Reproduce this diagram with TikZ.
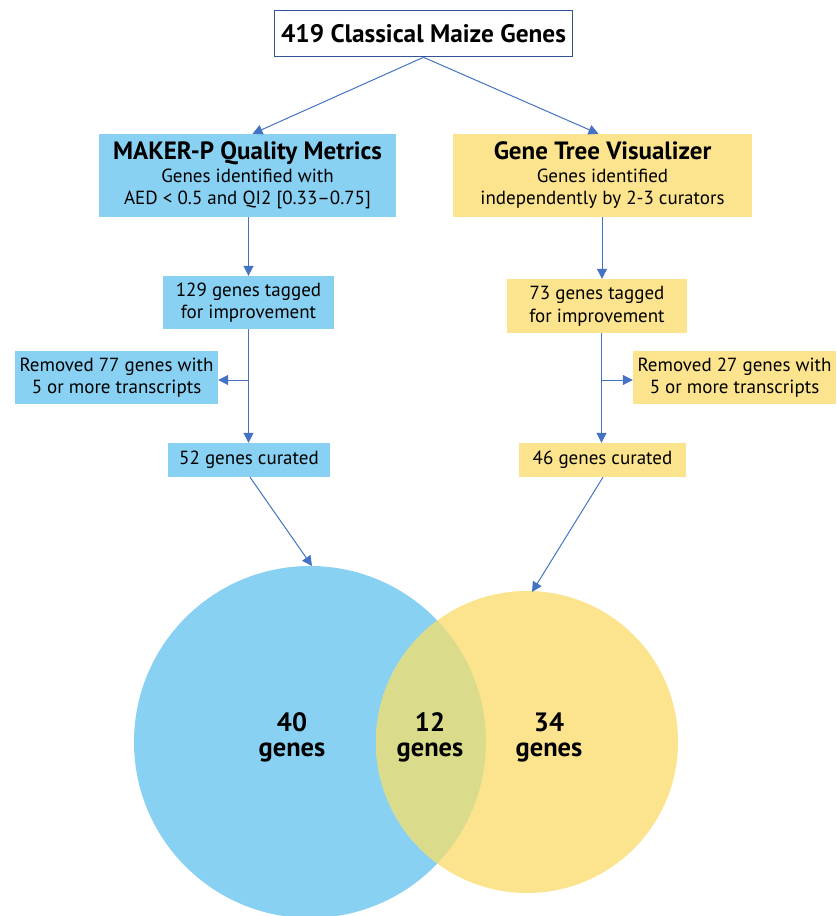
\documentclass[tikz,border=0pt]{standalone}
\usepackage{fontspec}
\setmainfont{PT Sans}
\usetikzlibrary{arrows.meta}
\definecolor{bfill}{HTML}{89D1F2}
\definecolor{yfill}{HTML}{FCE48E}
\definecolor{ovl}{HTML}{DADC8C}
\definecolor{arr}{HTML}{4472C4}
\definecolor{topb}{HTML}{2F5597}
\begin{document}
\begin{tikzpicture}[x=1pt,y=-1pt,
 box/.style={rectangle, inner sep=0pt, align=center, font=\fontsize{19}{22.5}\selectfont},
 bbox/.style={box, fill=bfill},
 ybox/.style={box, fill=yfill},
 arrow/.style={draw=arr, line width=1pt, -{Triangle[length=10pt,width=10pt]}},
 venn/.style={inner sep=0pt, font=\fontsize{26.5}{25}\bfseries\selectfont, align=center}
]
\useasboundingbox (0,0) rectangle (836,916);

% Venn diagram
\begin{scope}
\clip (0,0) rectangle (836,916);
\fill[bfill] (310,742) circle[radius=176];
\fill[yfill] (527,742) circle[radius=151];
\begin{scope}
\clip (310,742) circle[radius=176];
\fill[ovl] (527,742) circle[radius=151];
\end{scope}
\end{scope}
\coordinate (vb) at (312,566);
\coordinate (vy) at (532,592);

\node[venn] (l40) at (292,737) {40\\genes};
\node[venn] (l12) at (430,737) {12\\genes};
\node[venn] (l34) at (549,737) {34\\genes};

% boxes
\node[box, draw=topb, line width=1.6pt, fill=white, minimum width=298, minimum height=46,
      font=\fontsize{25.3}{26}\bfseries\selectfont] (top) at (423.5,33.5) {419 Classical Maize Genes};

\node[bbox, minimum width=297, minimum height=83] (mk) at (247.5,175.5)
 {{\fontsize{25}{22.5}\selectfont\bfseries MAKER-P Quality Metrics}\\Genes identified with\\AED < 0.5 and QI2 [0.33–0.75]};
\node[ybox, minimum width=299, minimum height=83] (gt) at (602.5,175.5)
 {{\fontsize{25}{22.5}\selectfont\bfseries Gene Tree Visualizer}\\Genes identified\\independently by 2-3 curators};

\node[bbox, minimum width=171, minimum height=53] (t129) at (248.5,302.5) {129 genes tagged\\for improvement};
\node[ybox, minimum width=180, minimum height=54] (t73) at (597,306) {73 genes tagged\\for improvement};

\node[bbox, minimum width=203, minimum height=53] (r77) at (116.5,377.5) {Removed 77 genes with\\5 or more transcripts};
\node[ybox, minimum width=203, minimum height=53] (r27) at (734.5,377.5) {Removed 27 genes with\\5 or more transcripts};

\node[bbox, minimum width=162, minimum height=34] (c52) at (249,460) {52 genes curated};
\node[ybox, minimum width=167, minimum height=34] (c46) at (602.5,460) {46 genes curated};

% connectors
\draw[arrow] (top.south) -- ([xshift=5pt]mk.north);
\draw[arrow] (top.south) -- ([xshift=-4pt]gt.north);

\draw[arrow] ([xshift=1pt]mk.south) -- ([xshift=1pt]mk.south |- t129.north);
\draw[arrow] ([xshift=-0.5pt]gt.south) -- ([xshift=-0.5pt]gt.south |- t73.north);

\draw[arrow] (t129.south) -- (t129.south |- c52.north);
\coordinate (b1) at ([yshift=-2.5pt]t129.south |- r77.east);
\draw[arrow] (b1) -- (b1 -| r77.east);

\draw[arrow] ([xshift=4.5pt]t73.south) -- ([xshift=4.5pt]t73.south |- c46.north);
\coordinate (b2) at ([xshift=4.5pt,yshift=-2.5pt]t73.south |- r27.west);
\draw[arrow] (b2) -- (b2 -| r27.west);

\draw[arrow] ([xshift=1pt]c52.south) -- (vb);
\draw[arrow] ([xshift=0.5pt]c46.south) -- (vy);
\end{tikzpicture}
\end{document}
